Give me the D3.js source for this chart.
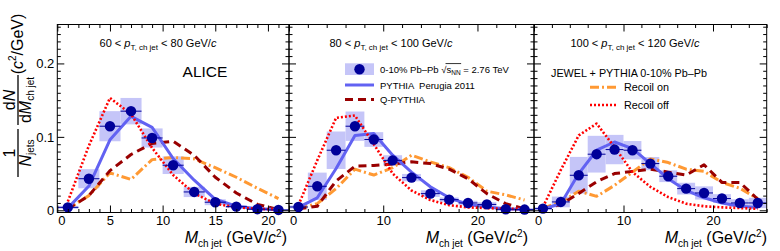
<!DOCTYPE html>
<html><head><meta charset="utf-8">
<script src="https://cdn.jsdelivr.net/npm/d3@7"></script>
<style>
body{margin:0;background:#fff}
svg{display:block}
text{font-family:"Liberation Sans",Arial,Helvetica,sans-serif;fill:#000}
</style>
</head><body>
<svg id="c" width="780" height="251"></svg>
<script>
// ---------------- DATA ----------------
const binCenters1 = [1,3,5,7,9,11,13,15,17,19,21];
const binCenters23 = [1,3,5,7,9,11,13,15,17,19,21,23,25];

// Panel 1: 60 < pT < 80
const data1      = [0.004,0.043,0.1145,0.135,0.0985,0.0614,0.025,0.011,0.005,0.0015,0.0005];
const sys1       = [0.002,0.013,0.0205,0.018,0.013,0.012,0.007,0.004,0.002,0.001,0.001];
const pythia1    = [0.003,0.033,0.096,0.128,0.113,0.0705,0.041,0.015,0.0055,0.002,0.001];
const qpythia1   = [0.002,0.02,0.054,0.076,0.091,0.094,0.075,0.045,0.0236,0.008,0.001];
const recoilOn1  = [0.002,0.02,0.051,0.042,0.069,0.072,0.07,0.058,0.045,0.03,0.016];
const recoilOff1 = [0.012,0.088,0.153,0.131,0.085,0.048,0.023,0.009,0.004,0.002,0.001];

// Panel 2: 80 < pT < 100
const data2      = [0.0045,0.0327,0.0818,0.1145,0.0964,0.068,0.0445,0.0227,0.0145,0.01,0.008,0.0014,0.001];
const sys2       = [0.002,0.0186,0.0255,0.02,0.01,0.007,0.005,0.0045,0.003,0.003,0.003,0.002,0.002];
const pythia2    = [0.004,0.017,0.057,0.102,0.1045,0.075,0.052,0.032,0.017,0.008,0.0045,0.002,0.001];
const qpythia2   = [0.002,0.0055,0.04,0.06,0.061,0.063,0.066,0.0636,0.056,0.043,0.0227,0.009,0.002];
const recoilOn2  = [0.003,0.009,0.0295,0.056,0.048,0.058,0.075,0.066,0.058,0.045,0.026,0.021,0.014];
const recoilOff2 = [0.007,0.068,0.126,0.129,0.09,0.05,0.027,0.014,0.007,0.004,0.003,0.002,0.002];

// Panel 3: 100 < pT < 120
const data3      = [0.0023,0.0114,0.0477,0.0764,0.0827,0.0818,0.0636,0.0464,0.0295,0.0236,0.016,0.01,0.01];
const sys3       = [0.002,0.0073,0.025,0.025,0.02,0.0125,0.009,0.008,0.008,0.009,0.006,0.005,0.007];
const pythia3    = [0.002,0.009,0.05,0.0818,0.093,0.084,0.0636,0.043,0.027,0.017,0.01,0.0055,0.0037];
const qpythia3   = [0.002,0.008,0.023,0.039,0.05,0.053,0.056,0.052,0.048,0.062,0.038,0.038,0.015];
const recoilOn3  = [0.003,0.011,0.026,0.019,0.034,0.052,0.07,0.065,0.056,0.053,0.038,0.03,0.016];
const recoilOff3 = [0.0045,0.055,0.102,0.118,0.086,0.052,0.032,0.018,0.009,0.0055,0.004,0.003,0.002];

const xDomains = [[0,22],[0,26],[0,26]];
const xMajorTicks = [[0,5,10,15,20],[0,10,20],[0,10,20]];
const xMinorStep = [1,2,2];
const yDomain = [-0.003,0.253];
const yMajorTicks = [0,0.1,0.2];
const binHalfWidth = 1;

const panelTitles = [["60","80"],["80","100"],["100","120"]];

// ---------------- STYLE / LAYOUT ----------------
const C = {
  data:"#000099", box:"#c5c5f8", pythia:"#6262f2", qpythia:"#990000",
  on:"#ff9933", off:"#ff0000"
};
const layout = [{l:57.3,r:289},{l:289,r:534},{l:534,r:766.7}];
const yTop = 24.5, yBot = 212.5;
const FONT = '"Liberation Sans",Arial,Helvetica,sans-serif';

const svg = d3.select("#c");
const y = d3.scaleLinear().domain(yDomain).range([yBot,yTop]);

const panels = [
  {c:binCenters1,d:data1,s:sys1,p:pythia1,q:qpythia1,on:recoilOn1,off:recoilOff1},
  {c:binCenters23,d:data2,s:sys2,p:pythia2,q:qpythia2,on:recoilOn2,off:recoilOff2},
  {c:binCenters23,d:data3,s:sys3,p:pythia3,q:qpythia3,on:recoilOn3,off:recoilOff3}
];

const styles = {
  pythia:{stroke:C.pythia,w:3,dash:null},
  qpythia:{stroke:C.qpythia,w:3,dash:"8,5"},
  on:{stroke:C.on,w:3,dash:"9,3,2,3"},
  off:{stroke:C.off,w:2.6,dash:"2,2"}
};

function styleAxis(sel){
  sel.attr("font-family",FONT).attr("font-size",13);
  sel.select(".domain").remove();
  sel.selectAll(".tick line").attr("stroke","#000").attr("stroke-width",1);
}

panels.forEach((P,i)=>{
  const L = layout[i];
  const x = d3.scaleLinear().domain(xDomains[i]).range([L.l,L.r]);
  const g = svg.append("g");
  const clipId = "clip"+i;
  svg.append("clipPath").attr("id",clipId).append("rect")
    .attr("x",L.l).attr("y",yTop).attr("width",L.r-L.l).attr("height",yBot-yTop);
  const pg = g.append("g").attr("clip-path",`url(#${clipId})`);
  const rows = P.c.map((c,k)=>({c,v:P.d[k],s:P.s[k]}));

  // systematic boxes
  pg.selectAll("rect.sys").data(rows).join("rect").attr("class","sys")
    .attr("x",d=>x(d.c-binHalfWidth)).attr("width",d=>x(d.c+binHalfWidth)-x(d.c-binHalfWidth))
    .attr("y",d=>y(d.v+d.s)).attr("height",d=>y(d.v-d.s)-y(d.v+d.s))
    .attr("fill",C.box);

  // model curves
  const line = d3.line().x(d=>x(d[0])).y(d=>y(d[1]));
  ["on","qpythia","pythia","off"].forEach(key=>{
    const vals = key==="pythia"?P.p:key==="qpythia"?P.q:key==="on"?P.on:P.off;
    const st = styles[key];
    pg.append("path").datum(P.c.map((c,k)=>[c,vals[k]]))
      .attr("d",line).attr("fill","none").attr("stroke",st.stroke)
      .attr("stroke-width",st.w).attr("stroke-dasharray",st.dash)
      .attr("stroke-linejoin","round");
  });

  // data: x error bars + circles
  g.selectAll("line.xerr").data(rows).join("line").attr("class","xerr")
    .attr("x1",d=>x(d.c-binHalfWidth)).attr("x2",d=>x(d.c+binHalfWidth))
    .attr("y1",d=>y(d.v)).attr("y2",d=>y(d.v))
    .attr("stroke",C.data).attr("stroke-width",1);
  g.selectAll("circle.pt").data(rows).join("circle").attr("class","pt")
    .attr("cx",d=>x(d.c)).attr("cy",d=>y(d.v)).attr("r",5.2).attr("fill",C.data);

  // axes (ticks inside)
  const minor = d3.range(xDomains[i][0],xDomains[i][1]+0.001,xMinorStep[i]).filter(v=>!xMajorTicks[i].includes(v));
  const yMinor = d3.range(0,0.2501,0.01).filter(v=>!yMajorTicks.some(m=>Math.abs(m-v)<1e-9));

  const bx = g.append("g").attr("transform",`translate(0,${yBot})`)
    .call(d3.axisBottom(x).tickValues(xMajorTicks[i]).tickSize(-7).tickSizeOuter(0).tickPadding(3).tickFormat(d3.format("d")));
  styleAxis(bx);
  bx.selectAll(".tick text").attr("dx",d=>d===0?4:0);
  styleAxis(g.append("g").attr("transform",`translate(0,${yBot})`)
    .call(d3.axisBottom(x).tickValues(minor).tickSize(-3.5).tickFormat("")));
  styleAxis(g.append("g").attr("transform",`translate(0,${yTop})`)
    .call(d3.axisTop(x).tickValues(xMajorTicks[i]).tickSize(-7).tickFormat("")));
  styleAxis(g.append("g").attr("transform",`translate(0,${yTop})`)
    .call(d3.axisTop(x).tickValues(minor).tickSize(-3.5).tickFormat("")));

  const ly = g.append("g").attr("transform",`translate(${L.l},0)`)
    .call(d3.axisLeft(y).tickValues(yMajorTicks).tickSize(-7).tickPadding(3)
      .tickFormat(i===0?(d=>d===0?"0":d3.format(".1f")(d)):""));
  styleAxis(ly);
  styleAxis(g.append("g").attr("transform",`translate(${L.l},0)`)
    .call(d3.axisLeft(y).tickValues(yMinor).tickSize(-3.5).tickFormat("")));
  styleAxis(g.append("g").attr("transform",`translate(${L.r},0)`)
    .call(d3.axisRight(y).tickValues(yMajorTicks).tickSize(-7).tickFormat("")));
  styleAxis(g.append("g").attr("transform",`translate(${L.r},0)`)
    .call(d3.axisRight(y).tickValues(yMinor).tickSize(-3.5).tickFormat("")));

  g.append("rect").attr("x",L.l).attr("y",yTop).attr("width",L.r-L.l).attr("height",yBot-yTop)
    .attr("fill","none").attr("stroke","#000").attr("stroke-width",1);

  // panel title
  const cx = [158,391,635][i];
  const t = g.append("text").attr("x",cx).attr("y",47).attr("text-anchor","middle").attr("font-size",11);
  t.append("tspan").text(panelTitles[i][0]+" < ");
  t.append("tspan").attr("font-style","italic").text("p");
  t.append("tspan").attr("font-size",8).attr("dy",3).text("T, ch jet");
  t.append("tspan").attr("dy",-3).text(" < "+panelTitles[i][1]+" GeV/");
  t.append("tspan").attr("font-style","italic").text("c");

  // x title
  const xe = [287,528,767][i];
  const xt = g.append("text").attr("x",xe).attr("y",242.5).attr("text-anchor","end").attr("font-size",16);
  xt.append("tspan").attr("font-style","italic").text("M");
  xt.append("tspan").attr("font-size",10).attr("dy",4).text("ch jet");
  xt.append("tspan").attr("dy",-4).text(" (GeV/");
  xt.append("tspan").attr("font-style","italic").text("c");
  xt.append("tspan").attr("font-size",10).attr("dy",-6).text("2");
  xt.append("tspan").attr("dy",6).text(")");
});

// ALICE
svg.append("text").attr("x",205).attr("y",77.3).attr("text-anchor","middle").attr("font-size",15.5).text("ALICE");

// Legend panel 2
(function(){
  const lx0=345, lx1=374, fs=9.5;
  svg.append("rect").attr("x",lx0).attr("y",63.3).attr("width",lx1-lx0).attr("height",11.7).attr("fill",C.box);
  svg.append("circle").attr("cx",(lx0+lx1)/2).attr("cy",69.2).attr("r",5.2).attr("fill",C.data);
  const t = svg.append("text").attr("x",380).attr("y",72.6).attr("font-size",fs);
  t.append("tspan").text("0-10% Pb\u2013Pb ");
  t.append("tspan").text("\u221A");
  t.append("tspan").text("s");
  t.append("tspan").attr("font-size",6.5).attr("dy",2).text("NN");
  t.append("tspan").attr("dy",-2).text(" = 2.76 TeV");
  const n = t.node();
  const s1 = n.getEndPositionOfChar(15).x;
  const r0 = n.getStartPositionOfChar(12).x;
  svg.append("line").attr("x1",r0+fs*0.45).attr("x2",s1+0.5).attr("y1",72.6-fs*0.95).attr("y2",72.6-fs*0.95)
    .attr("stroke","#000").attr("stroke-width",0.8);

  svg.append("line").attr("x1",lx0).attr("x2",lx1).attr("y1",85).attr("y2",85)
    .attr("stroke",C.pythia).attr("stroke-width",3);
  svg.append("text").attr("x",380).attr("y",88.5).attr("font-size",fs).attr("xml:space","preserve").text("PYTHIA  Perugia 2011");
  svg.append("line").attr("x1",lx0).attr("x2",lx1).attr("y1",99.5).attr("y2",99.5)
    .attr("stroke",C.qpythia).attr("stroke-width",3).attr("stroke-dasharray","8,5");
  svg.append("text").attr("x",380).attr("y",103).attr("font-size",fs).text("Q-PYTHIA");
})();

// Legend panel 3
(function(){
  const fs=10.8;
  svg.append("text").attr("x",551).attr("y",76.8).attr("font-size",fs).text("JEWEL + PYTHIA 0-10% Pb\u2013Pb");
  svg.append("line").attr("x1",590).attr("x2",618).attr("y1",87.3).attr("y2",87.3)
    .attr("stroke",C.on).attr("stroke-width",3).attr("stroke-dasharray","9,3,2,3");
  svg.append("text").attr("x",624).attr("y",91.3).attr("font-size",fs).text("Recoil on");
  svg.append("line").attr("x1",590).attr("x2",618).attr("y1",105).attr("y2",105)
    .attr("stroke",C.off).attr("stroke-width",2.6).attr("stroke-dasharray","2,2");
  svg.append("text").attr("x",624).attr("y",109).attr("font-size",fs).text("Recoil off");
})();

// Y title (rotated): local x = -screenY, local y = screenX
(function(){
  const g = svg.append("g").attr("transform","rotate(-90)").attr("font-size",16);
  // fraction 1: 1 / N_jets
  const c1 = 153;
  g.append("text").attr("x",-c1).attr("y",15).attr("text-anchor","middle").text("1");
  g.append("line").attr("x1",-c1-24).attr("x2",-c1+24).attr("y1",18).attr("y2",18).attr("stroke","#000").attr("stroke-width",1.3);
  const d1 = g.append("text").attr("x",-c1).attr("y",30.5).attr("text-anchor","middle");
  d1.append("tspan").attr("font-style","italic").text("N");
  d1.append("tspan").attr("font-size",10).attr("dy",3).text("jets");
  // fraction 2: dN / dM_ch jet
  const c2 = 100;
  const n2 = g.append("text").attr("x",-c2).attr("y",15).attr("text-anchor","middle");
  n2.append("tspan").text("d");
  n2.append("tspan").attr("font-style","italic").text("N");
  g.append("line").attr("x1",-c2-25).attr("x2",-c2+25).attr("y1",18).attr("y2",18).attr("stroke","#000").attr("stroke-width",1.3);
  const d2 = g.append("text").attr("x",-c2).attr("y",30.5).attr("text-anchor","middle");
  d2.append("tspan").text("d");
  d2.append("tspan").attr("font-style","italic").text("M");
  d2.append("tspan").attr("font-size",10).attr("dy",3).text("ch jet");
  // units
  const u = g.append("text").attr("x",-44).attr("y",23).attr("text-anchor","middle");
  u.append("tspan").text("(");
  u.append("tspan").attr("font-style","italic").text("c");
  u.append("tspan").attr("font-size",10).attr("dy",-7).text("2");
  u.append("tspan").attr("dy",7).text("/GeV)");
})();
</script>
</body></html>
